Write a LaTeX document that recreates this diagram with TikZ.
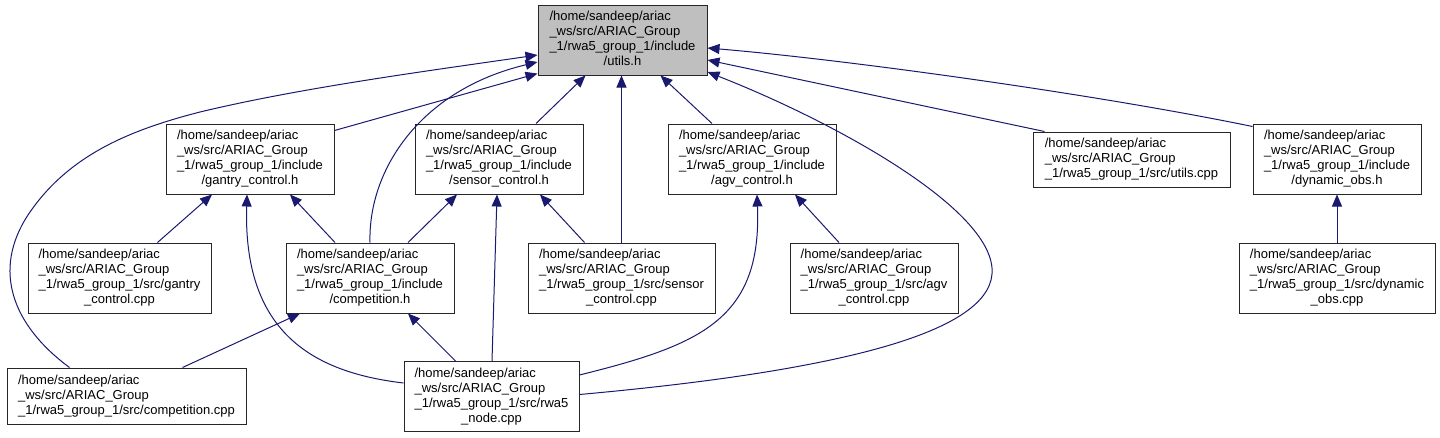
\documentclass[tikz,border=0pt]{standalone}
\usepackage{fontspec}
\setmainfont{Liberation Sans}
\usetikzlibrary{arrows.meta,calc}
\definecolor{edgeblue}{HTML}{191970}
\definecolor{rootgray}{HTML}{BFBFBF}
\newcommand{\pathhead}{/home/sandeep/ariac\\\_ws/src/ARIAC\_Group\\\_1/rwa5\_group\_1/}
\newcommand{\fourlbl}[2]{\begin{tabular}{@{}l@{}}\pathhead#1\\\multicolumn{1}{@{}c@{}}{#2}\end{tabular}}
\newcommand{\threelbl}[1]{\begin{tabular}{@{}l@{}}\pathhead#1\end{tabular}}
\begin{document}
\begin{tikzpicture}[x=1pt,y=-1pt,
  filebox/.style={draw=black!85, line width=1pt, fill=white, inner sep=0pt,
    minimum height=70pt, font=\fontsize{13}{15}\selectfont},
  rootbox/.style={filebox, fill=rootgray},
  dep/.style={draw=edgeblue, line width=1pt, -{Triangle[length=12pt,width=10pt]}}]
\useasboundingbox (0,0) rectangle (1440,437);
% nodes
\node[rootbox, minimum width=169pt] (U) at (622.5,40) {\fourlbl{include}{/utils.h}};
\node[filebox, minimum width=168pt] (GH) at (250,159) {\fourlbl{include}{/gantry\_control.h}};
\node[filebox, minimum width=168pt] (SH) at (499,159) {\fourlbl{include}{/sensor\_control.h}};
\node[filebox, minimum width=168pt] (AH) at (752,159) {\fourlbl{include}{/agv\_control.h}};
\node[filebox, minimum width=197pt, minimum height=55pt] (UC) at (1131.5,159.5) {\threelbl{src/utils.cpp}};
\node[filebox, minimum width=168pt] (DH) at (1337,159) {\fourlbl{include}{/dynamic\_obs.h}};
\node[filebox, minimum width=183pt] (GC) at (119.5,278) {\fourlbl{src/gantry}{\_control.cpp}};
\node[filebox, minimum width=168pt] (CH) at (370,278) {\fourlbl{include}{/competition.h}};
\node[filebox, minimum width=187pt] (SC) at (621.5,278) {\fourlbl{src/sensor}{\_control.cpp}};
\node[filebox, minimum width=168pt] (AC) at (874,278) {\fourlbl{src/agv}{\_control.cpp}};
\node[filebox, minimum width=196pt] (DC) at (1337,278) {\fourlbl{src/dynamic}{\_obs.cpp}};
\node[filebox, minimum width=239pt, minimum height=56pt] (CC) at (126.5,396) {\threelbl{src/competition.cpp}};
\node[filebox, minimum width=175pt] (RN) at (491.5,396.5) {\fourlbl{src/rwa5}{\_node.cpp}};
% edges to utils.h
\draw[dep] ($(GH.north east)+(0,7)$) -- ($(U.south west)+(0,-2)$);
\draw[dep] ($(SH.north)+(37,0)$) -- ($(U.south)+(-37,0)$);
\draw[dep] ($(AH.north)+(-40,0)$) -- ($(U.south)+(38,0)$);
\draw[dep] ($(UC.north west)+(12,0)$) -- ($(U.east)+(0,20)$);
\draw[dep] ($(DH.north west)+(0,3)$) .. controls (1100,95) and (850,60) .. ($(U.east)+(0,8)$);
\draw[dep] (SC.north) -- (SC.north |- U.south);
\draw[dep] (CH.north) .. controls (368,170) and (420,90) .. ($(U.west)+(0,22)$);
\draw[dep] ($(CC.north west)+(63,0)$) .. controls (12,325) and (-8,270) .. (28,215)
  .. controls (68,155) and (130,130) .. (200,112)
  .. controls (300,88) and (420,72) .. ($(U.west)+(0,15)$);
\draw[dep] ($(RN.east)+(0,-2)$) .. controls (850,370) and (997,330) .. (992,268)
  .. controls (987,205) and (830,120) .. ($(U.east)+(0,32)$);
% edges to gantry_control.h
\draw[dep] ($(GC.north)+(38,0)$) -- ($(GH.south)+(-38,0)$);
\draw[dep] ($(CH.north)+(-35,0)$) -- ($(GH.south)+(40,0)$);
\draw[dep] ($(RN.west)+(0,-13.5)$) .. controls (310,372) and (243,330) .. ($(GH.south)+(-3,0)$);
% edges to sensor_control.h
\draw[dep] ($(CH.north)+(38,0)$) -- ($(SH.south)+(-42,0)$);
\draw[dep] ($(RN.north)+(0.5,0)$) -- ($(SH.south)+(-2,0)$);
\draw[dep] ($(SC.north)+(-37,0)$) -- ($(SH.south)+(41,0)$);
% edges to agv_control.h
\draw[dep] ($(RN.east)+(0,-21.5)$) .. controls (700,345) and (762,320) .. ($(AH.south)+(5,0)$);
\draw[dep] ($(AC.north)+(-35,0)$) -- ($(AH.south)+(43,0)$);
% edge to dynamic_obs.h
\draw[dep] (DC.north) -- (DH.south);
% edges to competition.h
\draw[dep] ($(CC.north)+(56,0)$) -- ($(CH.south)+(-70,0)$);
\draw[dep] ($(RN.north)+(-36,0)$) -- ($(CH.south)+(38,0)$);
\end{tikzpicture}
\end{document}
